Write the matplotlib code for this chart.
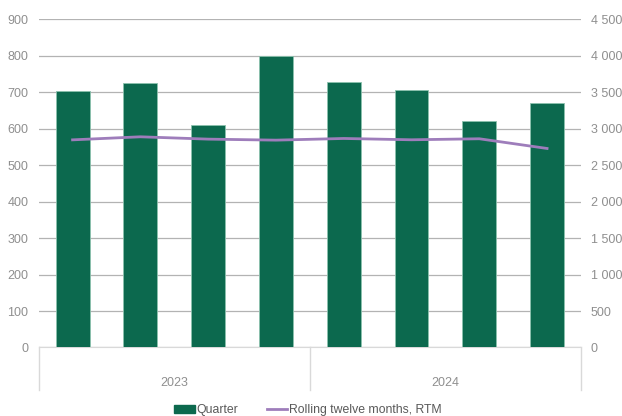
import numpy as np
import matplotlib
matplotlib.use('Agg')
import matplotlib.pyplot as plt
from matplotlib.ticker import FuncFormatter

plt.rcParams['font.family'] = ['Liberation Sans', 'DejaVu Sans']

# data
years = ['2023', '2024']
quarters = ['Q1', 'Q2', 'Q3', 'Q4', 'Q1', 'Q2', 'Q3', 'Q4']
quarter = [703, 725, 610, 800, 729, 707, 621, 670]
rtm = [2847, 2889, 2857, 2843, 2866, 2848, 2862, 2729]
left_ticks = list(range(0, 1000, 100))
right_ticks = list(range(0, 5000, 500))

green = '#0c694e'
purple = '#9e7dbb'
grid = '#b3b3b3'
label_col = '#8f8f8f'

fig = plt.figure(figsize=(6.22, 4.16), dpi=100)
ax = fig.add_axes([0.0622, 0.1647, 0.934 - 0.0622, 0.9536 - 0.1647])
ax2 = ax.twinx()

x = np.arange(len(quarter))
ax.bar(x, quarter, width=0.5, color=green, edgecolor='#8cc2ae', linewidth=0.6, zorder=3)
ax2.plot(x, rtm, color=purple, linewidth=2, zorder=4)

ax.set_xlim(-0.5, len(quarter) - 0.5)
ax.set_ylim(0, 900)
ax2.set_ylim(0, 4500)
ax.set_yticks(left_ticks)
ax2.set_yticks(right_ticks)
ax2.yaxis.set_major_formatter(FuncFormatter(lambda v, p: f'{int(v):,}'.replace(',', ' ')))

ax.yaxis.grid(True, color=grid, linewidth=0.9, zorder=0)
ax.set_axisbelow(True)
ax.set_xticks([])

for a in (ax, ax2):
    for s in a.spines.values():
        s.set_visible(False)
    a.tick_params(axis='y', length=0, labelsize=9, labelcolor=label_col)
ax.tick_params(axis='y', pad=7.5)
ax2.tick_params(axis='y', pad=7)

ax.spines['bottom'].set_visible(True)
ax.spines['bottom'].set_color('#d9d9d9')

# year group axis
tr = ax.get_xaxis_transform()
for xb in [-0.5, 3.5, 7.5]:
    ax.plot([xb, xb], [0, -0.131], transform=tr, color='#d9d9d9', lw=1, clip_on=False)
for i, yr in enumerate(years):
    ax.text(i * 4 + 1.5, -0.108, yr, transform=tr, ha='center', va='center',
            fontsize=9, color=label_col)

h1 = plt.Rectangle((0, 0), 1, 1, color=green)
h2 = plt.Line2D([], [], color=purple, lw=2)
fig.legend([h1, h2], ['Quarter', 'Rolling twelve months, RTM'], loc='center',
           bbox_to_anchor=(0.495, 0.014), ncol=2, frameon=False, fontsize=8.8,
           handlelength=1.7, handletextpad=0.15, columnspacing=2.3, labelcolor='#595959')

fig.savefig('out.png', dpi=100)
